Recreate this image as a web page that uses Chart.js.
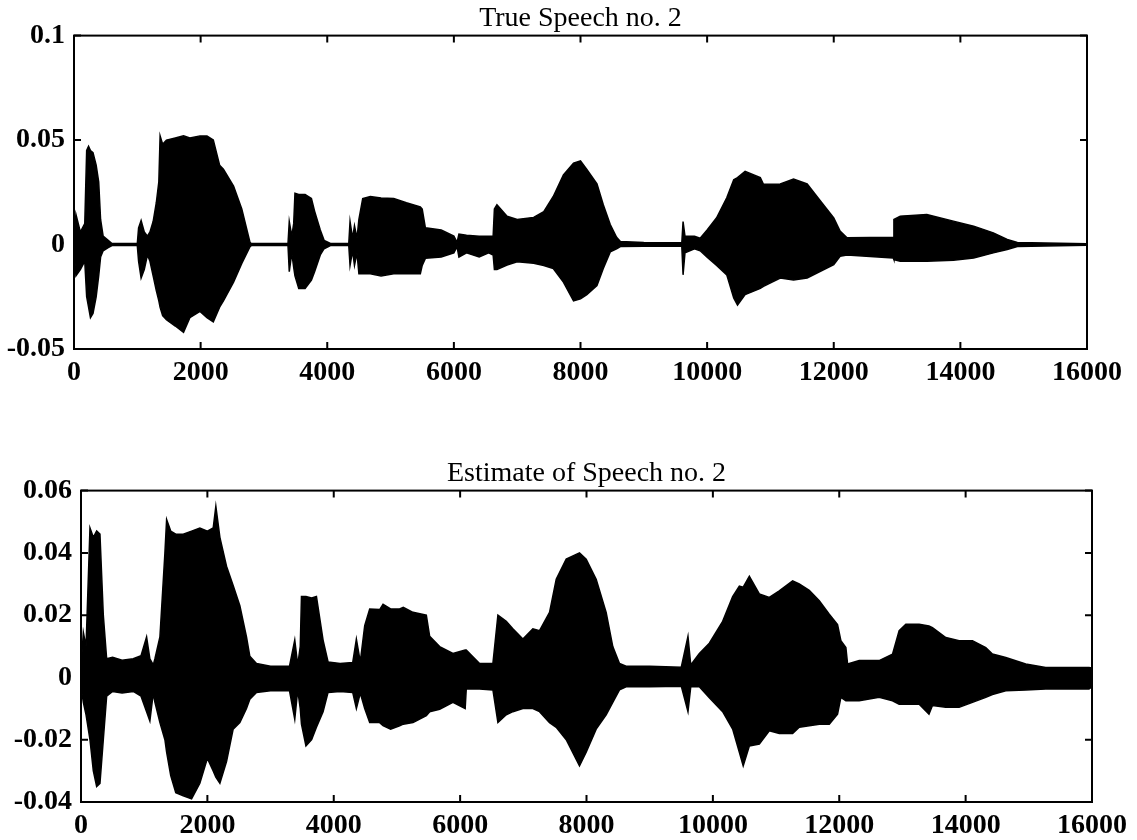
<!DOCTYPE html>
<html lang="en">

<head>
    <meta charset="UTF-8">
    <title>True Speech / Estimate of Speech no. 2</title>
    <script src="https://cdn.jsdelivr.net/npm/chart.js"></script>
    <style>
        body { margin: 0; background: #fff; }
        canvas { position: absolute; left: 0; }
        #chart-true { top: 0; }
        #chart-est { top: 400px; }
    </style>
</head>

<body>
    <canvas id="chart-true" width="1137" height="400"></canvas>
    <canvas id="chart-est" width="1137" height="440"></canvas>

<script>
    // Sample index axis (shared by both panels)
    var xTicks = [0, 2000, 4000, 6000, 8000, 10000, 12000, 14000, 16000];

    // Top panel: true speech, envelope (max / min)
    var trueSamples = [0, 30, 100, 170, 200, 230, 260, 300, 350, 390, 420, 460, 540, 600, 1000, 1020, 1060, 1110, 1160, 1200,
        1250, 1300, 1340, 1360, 1400, 1460, 1600, 1730, 1830, 1990, 2100, 2200, 2300, 2360, 2520, 2650, 2780, 2800, 3380, 3400,
        3440, 3470, 3490, 3550, 3650, 3750, 3800, 3890, 3950, 4050, 4340, 4360, 4400, 4430, 4470, 4500, 4560, 4680, 4850, 5050,
        5250, 5470, 5500, 5550, 5800, 6000, 6050, 6080, 6200, 6400, 6550, 6620, 6640, 6680, 6840, 7000, 7260, 7420, 7570, 7730,
        7890, 8000, 8100, 8260, 8360, 8470, 8570, 8630, 9000, 9600, 9620, 9650, 9800, 9890, 10000, 10150, 10310, 10420, 10480, 10600,
        10840, 10890, 11155, 11365, 11580, 11790, 12000, 12100, 12210, 12940, 12950, 13050, 13470, 13890, 14210, 14520, 14740, 14900, 16000];
    var trueMax = [0.002, 0.0145, 0.006, 0.010, 0.045, 0.047, 0.045, 0.044, 0.038, 0.030, 0.012, 0.004, 0.002, 0.0005, 0.0005, 0.008, 0.0115, 0.006, 0.004, 0.006,
        0.011, 0.020, 0.030, 0.052, 0.048, 0.050, 0.051, 0.052, 0.051, 0.052, 0.052, 0.050, 0.038, 0.036, 0.028, 0.017, 0.001, 0.0005, 0.0005, 0.011,
        0.004, 0.010, 0.0245, 0.024, 0.024, 0.022, 0.016, 0.007, 0.002, 0.0005, 0.0005, 0.011, 0.003, 0.009, 0.003, 0.012, 0.022, 0.023, 0.0223, 0.022,
        0.020, 0.018, 0.017, 0.008, 0.007, 0.004, 0.001, 0.005, 0.0045, 0.004, 0.004, 0.004, 0.017, 0.019, 0.0135, 0.012, 0.013, 0.0157, 0.023, 0.0333,
        0.039, 0.040, 0.036, 0.029, 0.019, 0.0096, 0.0035, 0.0015, 0.001, 0.0008, 0.011, 0.004, 0.004, 0.003, 0.007, 0.0128, 0.0224, 0.031, 0.032, 0.035,
        0.032, 0.0288, 0.029, 0.0313, 0.029, 0.0208, 0.0128, 0.0064, 0.0032, 0.0035, 0.012, 0.0136, 0.0144, 0.0112, 0.0088, 0.0056, 0.0024, 0.001, 0.0004];
    var trueMin = [-0.002, -0.015, -0.012, -0.008, -0.025, -0.030, -0.035, -0.033, -0.025, -0.015, -0.006, -0.003, -0.0015, -0.0005, -0.0005, -0.008, -0.016, -0.012, -0.005, -0.008,
        -0.015, -0.022, -0.027, -0.030, -0.034, -0.036, -0.039, -0.042, -0.035, -0.032, -0.035, -0.037, -0.030, -0.027, -0.018, -0.009, -0.001, -0.0005, -0.0005, -0.013,
        -0.004, -0.011, -0.015, -0.021, -0.021, -0.017, -0.013, -0.005, -0.002, -0.0005, -0.0005, -0.010, -0.003, -0.010, -0.004, -0.014, -0.014, -0.014, -0.015, -0.014,
        -0.014, -0.014, -0.010, -0.0066, -0.006, -0.004, -0.001, -0.006, -0.004, -0.006, -0.004, -0.005, -0.012, -0.012, -0.0098, -0.0082, -0.009, -0.010, -0.0115, -0.018,
        -0.027, -0.026, -0.024, -0.0196, -0.0115, -0.0035, -0.002, -0.001, -0.0008, -0.0008, -0.0145, -0.004, -0.002, -0.003, -0.006, -0.010, -0.0145, -0.0256, -0.029, -0.024,
        -0.021, -0.020, -0.016, -0.017, -0.016, -0.0128, -0.0096, -0.0056, -0.005, -0.0064, -0.0072, -0.008, -0.008, -0.0075, -0.0064, -0.004, -0.0024, -0.001, -0.0004];
    var trueYTicks = [-0.05, 0, 0.05, 0.1];
    var trueYLabels = ['-0.05', '0', '0.05', '0.1'];

    // Bottom panel: estimate, envelope (max / min)
    var estSamples = [0, 37, 80, 142, 195, 248, 300, 353, 406, 500, 650, 827, 950, 1038, 1090, 1144, 1170, 1249, 1328, 1355,
        1420, 1500, 1618, 1750, 1881, 2000, 2092, 2134, 2198, 2303, 2408, 2514, 2619, 2672, 2777, 3000, 3300, 3383, 3430, 3470,
        3489, 3560, 3650, 3726, 3831, 3910, 4100, 4300, 4358, 4420, 4490, 4569, 4727, 4780, 4900, 5043, 5100, 5254, 5465, 5518,
        5676, 5886, 6080, 6097, 6308, 6519, 6598, 6730, 6835, 6993, 7151, 7257, 7415, 7521, 7679, 7889, 7995, 8153, 8311, 8416,
        8522, 8627, 9000, 9500, 9606, 9650, 9786, 9944, 10155, 10313, 10419, 10480, 10577, 10735, 10893, 11051, 11262, 11367, 11525, 11684,
        11842, 11973, 12026, 12105, 12132, 12316, 12632, 12843, 12948, 13054, 13265, 13420, 13475, 13686, 13897, 14108, 14319, 14424, 14635, 14951,
        15267, 15952, 16000];
    var estMax = [0.003, 0.0145, 0.010, 0.048, 0.045, 0.047, 0.046, 0.020, 0.006, 0.0065, 0.0055, 0.006, 0.007, 0.013, 0.006, 0.004, 0.006, 0.013, 0.040, 0.0507,
        0.047, 0.046, 0.046, 0.047, 0.048, 0.047, 0.048, 0.055, 0.045, 0.0357, 0.0295, 0.023, 0.013, 0.0068, 0.0045, 0.0036, 0.0036, 0.012, 0.004, 0.010,
        0.026, 0.026, 0.0255, 0.026, 0.012, 0.005, 0.0045, 0.0048, 0.0123, 0.005, 0.0166, 0.022, 0.0218, 0.0235, 0.022, 0.022, 0.0225, 0.0209, 0.020, 0.0132,
        0.0099, 0.0077, 0.0088, 0.0088, 0.0045, 0.0045, 0.020, 0.018, 0.0156, 0.0123, 0.0156, 0.015, 0.0209, 0.0315, 0.038, 0.040, 0.038, 0.0315, 0.0209, 0.0099,
        0.0045, 0.0036, 0.0036, 0.0033, 0.0132, 0.004, 0.0077, 0.011, 0.018, 0.026, 0.0293, 0.029, 0.0325, 0.0268, 0.0257, 0.0278, 0.031, 0.030, 0.028, 0.0246,
        0.0203, 0.017, 0.0118, 0.0096, 0.0043, 0.0054, 0.0054, 0.0075, 0.015, 0.0171, 0.0171, 0.0165, 0.016, 0.0128, 0.0118, 0.0118, 0.0096, 0.0075, 0.0064, 0.0043,
        0.0032, 0.0032, 0.003];
    var estMin = [-0.003, -0.008, -0.012, -0.020, -0.030, -0.035, -0.034, -0.020, -0.006, -0.0045, -0.005, -0.0045, -0.006, -0.011, -0.014, -0.005, -0.008, -0.0145, -0.020, -0.024,
        -0.0315, -0.037, -0.038, -0.039, -0.034, -0.026, -0.030, -0.032, -0.034, -0.027, -0.0166, -0.0145, -0.010, -0.007, -0.0048, -0.0043, -0.0043, -0.0134, -0.004, -0.010,
        -0.015, -0.022, -0.020, -0.016, -0.011, -0.0048, -0.0045, -0.0048, -0.010, -0.005, -0.010, -0.0145, -0.0145, -0.0155, -0.0166, -0.0155, -0.015, -0.0145, -0.0123, -0.011,
        -0.0102, -0.008, -0.010, -0.0037, -0.0037, -0.004, -0.0145, -0.012, -0.011, -0.010, -0.010, -0.011, -0.0145, -0.016, -0.020, -0.0284, -0.024, -0.0166, -0.012, -0.008,
        -0.004, -0.003, -0.003, -0.0028, -0.011, -0.003, -0.003, -0.0065, -0.011, -0.0166, -0.024, -0.0284, -0.022, -0.0214, -0.0171, -0.018, -0.018, -0.016, -0.0155, -0.015,
        -0.015, -0.0118, -0.0064, -0.0075, -0.0075, -0.0075, -0.0064, -0.0075, -0.0086, -0.0086, -0.0086, -0.0118, -0.009, -0.0096, -0.0096, -0.008, -0.0064, -0.0055, -0.0043, -0.004,
        -0.0037, -0.0037, -0.003];
    var estYTicks = [-0.04, -0.02, 0, 0.02, 0.04, 0.06];
    var estYLabels = ['-0.04', '-0.02', '0', '0.02', '0.04', '0.06'];

    var fonte = '"Liberation Serif", "DejaVu Serif", serif';

    // moldura e tracinhos para dentro, estilo MATLAB
    var molduraPlugin = {
        id: 'moldura',
        afterDatasetsDraw: function (chart) {
            var ctx = chart.ctx;
            var a = chart.chartArea;
            var sx = chart.scales.x;
            var sy = chart.scales.y;
            ctx.save();
            ctx.strokeStyle = '#000';
            ctx.lineWidth = 2;
            ctx.strokeRect(a.left, a.top, a.right - a.left, a.bottom - a.top);
            ctx.beginPath();
            sx.ticks.forEach(function (t) {
                var px = sx.getPixelForValue(t.value);
                ctx.moveTo(px, a.bottom); ctx.lineTo(px, a.bottom - 7);
                ctx.moveTo(px, a.top); ctx.lineTo(px, a.top + 7);
            });
            sy.ticks.forEach(function (t) {
                var py = sy.getPixelForValue(t.value);
                ctx.moveTo(a.left, py); ctx.lineTo(a.left + 7, py);
                ctx.moveTo(a.right, py); ctx.lineTo(a.right - 7, py);
            });
            ctx.stroke();
            ctx.restore();
        }
    };

    function montarGrafico(id, titulo, amostras, maximos, minimos, yTicks, yLabels, caixa) {
        var upper = amostras.map(function (s, i) { return { x: s, y: maximos[i] }; });
        var lower = amostras.map(function (s, i) { return { x: s, y: minimos[i] }; });

        var config = {
            type: 'line',
            data: {
                datasets: [{
                    data: upper,
                    borderColor: '#000',
                    backgroundColor: '#000',
                    borderWidth: 1.5,
                    pointRadius: 0,
                    tension: 0,
                    fill: '+1'
                }, {
                    data: lower,
                    borderColor: '#000',
                    borderWidth: 1.5,
                    pointRadius: 0,
                    tension: 0,
                    fill: false
                }]
            },
            options: {
                responsive: false,
                animation: false,
                devicePixelRatio: 1,
                layout: {
                    padding: { top: caixa.padTop, right: caixa.padRight, left: 0, bottom: 0 }
                },
                plugins: {
                    legend: { display: false },
                    tooltip: { enabled: false },
                    title: {
                        display: true,
                        text: titulo,
                        fullSize: false,
                        color: '#000',
                        font: { family: fonte, size: 28, weight: 'normal', lineHeight: 1.2 },
                        padding: { top: 2, bottom: 0 }
                    }
                },
                scales: {
                    x: {
                        type: 'linear',
                        min: 0,
                        max: 16000,
                        grid: { display: false, drawTicks: false },
                        border: { display: false },
                        afterBuildTicks: function (scale) {
                            scale.ticks = xTicks.map(function (v) { return { value: v }; });
                        },
                        afterFit: function (scale) { scale.height = caixa.xHeight; },
                        ticks: {
                            color: '#000',
                            padding: caixa.xPad,
                            maxRotation: 0,
                            autoSkip: false,
                            font: { family: fonte, size: 28, weight: 'bold', lineHeight: 1 },
                            callback: function (v) { return String(v); }
                        }
                    },
                    y: {
                        type: 'linear',
                        min: yTicks[0],
                        max: yTicks[yTicks.length - 1],
                        grid: { display: false, drawTicks: false },
                        border: { display: false },
                        afterBuildTicks: function (scale) {
                            scale.ticks = yTicks.map(function (v) { return { value: v }; });
                        },
                        afterFit: function (scale) { scale.width = caixa.yWidth; },
                        ticks: {
                            color: '#000',
                            padding: 9,
                            autoSkip: false,
                            font: { family: fonte, size: 28, weight: 'bold', lineHeight: 1 },
                            callback: function (v) {
                                var i = yTicks.indexOf(v);
                                return i >= 0 ? yLabels[i] : '';
                            }
                        }
                    }
                }
            },
            plugins: [molduraPlugin]
        };

        var ctx = document.getElementById(id).getContext('2d');
        return new Chart(ctx, config);
    }

    montarGrafico('chart-true', 'True Speech no. 2', trueSamples, trueMax, trueMin, trueYTicks, trueYLabels,
        { padTop: 0, padRight: 50, xHeight: 51, yWidth: 74, xPad: 10 });

    montarGrafico('chart-est', 'Estimate of Speech no. 2', estSamples, estMax, estMin, estYTicks, estYLabels,
        { padTop: 55, padRight: 44, xHeight: 38, yWidth: 81, xPad: 10 });
</script>
</body>

</html>
